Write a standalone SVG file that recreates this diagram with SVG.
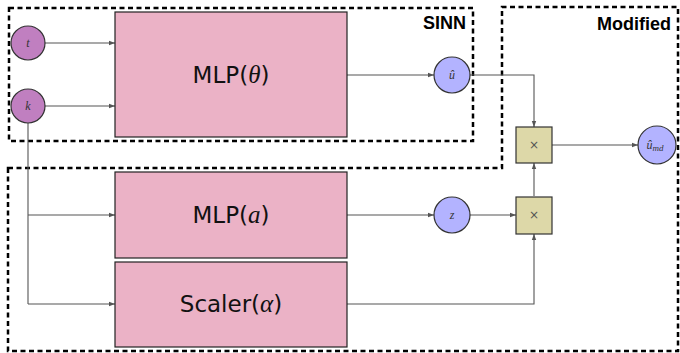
<svg xmlns="http://www.w3.org/2000/svg" width="680" height="353" viewBox="0 0 680 353">
<style>
.region{fill:none;stroke:#000;stroke-width:2.5;stroke-dasharray:5 3.5}
.block{fill:#ebb2c6;stroke:#222;stroke-width:1.2}
.inp{fill:#c07fc0;stroke:#333;stroke-width:1.2}
.var{fill:#b3b3ff;stroke:#333;stroke-width:1.2}
.mul{fill:#ddd8a8;stroke:#333;stroke-width:1.2}
.edge{fill:none;stroke:#555;stroke-width:1.1}
.big{font-family:"DejaVu Sans","Liberation Sans",sans-serif;font-size:23px;fill:#111;text-anchor:middle}
.m{font-family:"Liberation Serif","Times New Roman",serif;font-style:italic;font-size:25px}
.lab{font-family:"Liberation Serif","Times New Roman",serif;font-style:italic;font-size:12px;fill:#333;text-anchor:middle}
.title{font-family:"Liberation Sans",Arial,sans-serif;font-size:18px;font-weight:bold;fill:#000;text-anchor:end}
.x{font-family:"DejaVu Sans",sans-serif;font-size:12px;fill:#555;text-anchor:middle}
</style>
<defs>
<marker id="arr" viewBox="0 0 6 6" refX="6" refY="3" markerWidth="6" markerHeight="6" orient="auto" markerUnits="userSpaceOnUse">
<path d="M0,0.8 L6,3 L0,5.2 Z" fill="#555"/>
</marker>
</defs>
<g id="regions">
<rect id="sinn-region" class="region" x="9" y="8" width="464" height="133"/>
<path id="modified-region" class="region" d="M8,168 L502,168 L502,7 L678,7 L678,351 L8,351 Z"/>
<text class="title" x="466" y="29">SINN</text>
<text class="title" x="671" y="30">Modified</text>
</g>
<g id="connectors">
<path class="edge" d="M45,43 H115" marker-end="url(#arr)"/>
<path class="edge" d="M45,106 H115" marker-end="url(#arr)"/>
<path class="edge" d="M28,123 V304"/>
<path class="edge" d="M28,215 H115" marker-end="url(#arr)"/>
<path class="edge" d="M28,304 H115" marker-end="url(#arr)"/>
<path class="edge" d="M347,75 H434" marker-end="url(#arr)"/>
<path class="edge" d="M470,75 H534 V127" marker-end="url(#arr)"/>
<path class="edge" d="M552,145 H638" marker-end="url(#arr)"/>
<path class="edge" d="M347,215 H434" marker-end="url(#arr)"/>
<path class="edge" d="M470,215 H516" marker-end="url(#arr)"/>
<path class="edge" d="M534,196 V163" marker-end="url(#arr)"/>
<path class="edge" d="M347,304 H534 V234" marker-end="url(#arr)"/>
</g>
<g id="t">
<circle class="inp" cx="28" cy="43" r="17"/>
<text class="lab" x="28" y="47">t</text>
</g>
<g id="k">
<circle class="inp" cx="28" cy="106" r="17"/>
<text class="lab" x="28" y="110">k</text>
</g>
<g id="mlp-theta">
<rect class="block" x="115" y="12" width="232" height="125"/>
<text class="big" x="231" y="83">MLP(<tspan class="m">θ</tspan>)</text>
</g>
<g id="mlp-a">
<rect class="block" x="115" y="172" width="232" height="86"/>
<text class="big" x="231" y="223">MLP(<tspan class="m">a</tspan>)</text>
</g>
<g id="scaler">
<rect class="block" x="115" y="262" width="232" height="85"/>
<text class="big" x="231" y="312">Scaler(<tspan class="m">α</tspan>)</text>
</g>
<g id="u-hat">
<circle class="var" cx="452" cy="75" r="18"/>
<text class="lab" x="452" y="79">û</text>
</g>
<g id="z">
<circle class="var" cx="452" cy="215" r="18"/>
<text class="lab" x="452" y="219">z</text>
</g>
<g id="mul-top">
<rect class="mul" x="516" y="127" width="36" height="36"/>
<text class="x" x="534" y="149">×</text>
</g>
<g id="mul-bottom">
<rect class="mul" x="516" y="197" width="36" height="37"/>
<text class="x" x="534" y="219">×</text>
</g>
<g id="u-md">
<circle class="var" cx="657" cy="145" r="19"/>
<text class="lab" x="655" y="149">û<tspan font-size="9" dy="2">md</tspan></text>
</g>
</svg>
